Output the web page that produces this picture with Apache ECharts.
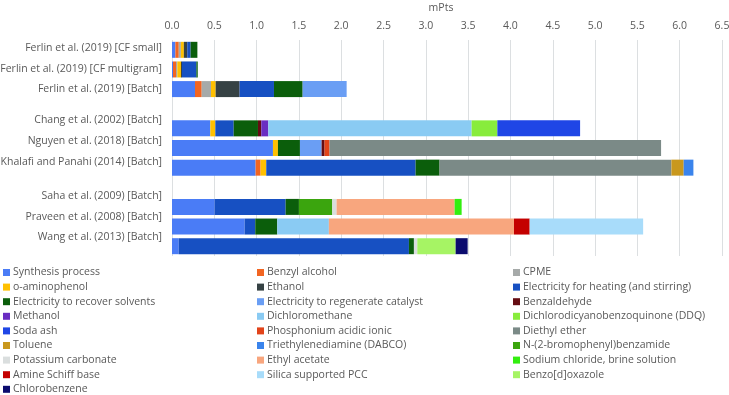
<!DOCTYPE html>
<html>
<head>
<meta charset="utf-8">
<script src="https://cdn.jsdelivr.net/npm/echarts@6/dist/echarts.min.js"></script>
<style>html,body{margin:0;padding:0;background:#fff;}#c{width:729px;height:395px;}</style>
</head>
<body>
<div id="c"></div>
<script>
// Categories (top to bottom); blank strings are the spacer rows
const categories = [
  'Ferlin et al. (2019) [CF small]',
  'Ferlin et al. (2019) [CF multigram]',
  'Ferlin et al. (2019) [Batch]',
  ' ',
  'Chang et al. (2002) [Batch]',
  'Nguyen et al. (2018) [Batch]',
  'Khalafi and Panahi (2014) [Batch]',
  '  ',
  'Saha et al. (2009) [Batch]',
  'Praveen et al. (2008) [Batch]',
  'Wang et al. (2013) [Batch]'
];
const xTicks = [0, 0.5, 1, 1.5, 2, 2.5, 3, 3.5, 4, 4.5, 5, 5.5, 6, 6.5];

// Series values (mPts), one entry per category row
const synthesisProcess   = [0.040, 0.012, 0.272, null, 0.453, 1.193, 0.988, null, 0.504, 0.858, 0.079];
const benzylAlcohol      = [0.040, 0.035, 0.079, null, null, null, 0.059, null, null, null, null];
const cpme               = [0.025, 0.016, 0.110, null, null, null, null, null, null, null, null];
const oAminophenol       = [0.035, 0.043, 0.055, null, 0.059, 0.059, 0.067, null, null, null, null];
const ethanol            = [0.040, 0.012, 0.283, null, null, null, null, null, null, null, null];
const elecHeating        = [0.040, 0.170, 0.406, null, 0.217, null, 1.765, null, 0.839, 0.126, 2.721];
const elecRecover        = [0.080, 0.016, 0.339, null, 0.287, 0.260, 0.283, null, 0.157, 0.260, 0.059];
const elecRegenerate     = [null, null, 0.520, null, null, 0.256, null, null, null, null, null];
const benzaldehyde       = [null, null, null, null, 0.039, 0.035, null, null, null, null, null];
const methanol           = [null, null, null, null, 0.083, null, null, null, null, null, null];
const dichloromethane    = [null, null, null, null, 2.403, null, null, null, null, 0.610, null];
const ddq                = [null, null, null, null, 0.304, null, null, null, null, null, null];
const sodaAsh            = [null, null, null, null, 0.978, null, null, null, null, null, null];
const phosphonium        = [null, null, null, null, null, 0.059, null, null, null, null, null];
const diethylEther       = [null, null, null, null, null, 3.918, 2.740, null, null, null, null];
const toluene            = [null, null, null, null, null, null, 0.145, null, null, null, null];
const dabco              = [null, null, null, null, null, null, 0.115, null, null, null, null];
const bromophenylAmide   = [null, null, null, null, null, null, null, null, 0.394, null, null];
const potassiumCarbonate = [null, null, null, null, null, null, null, null, 0.051, null, 0.040];
const ethylAcetate       = [null, null, null, null, null, null, null, null, 1.395, 2.188, null];
const sodiumChloride     = [null, null, null, null, null, null, null, null, 0.083, null, null];
const amineSchiffBase    = [null, null, null, null, null, null, null, null, null, 0.185, null];
const silicaPCC          = [null, null, null, null, null, null, null, null, null, 1.341, null];
const benzoxazole        = [null, null, null, null, null, null, null, null, null, null, 0.453];
const chlorobenzene      = [null, null, null, null, null, null, null, null, null, null, 0.142];

const seriesDefs = [
  ['Synthesis process', synthesisProcess, '#4a7cf6'],
  ['Benzyl alcohol', benzylAlcohol, '#f26522'],
  ['CPME', cpme, '#a6aaa9'],
  ['o-aminophenol', oAminophenol, '#ffc000'],
  ['Ethanol', ethanol, '#364244'],
  ['Electricity for heating (and stirring)', elecHeating, '#1750c2'],
  ['Electricity to recover solvents', elecRecover, '#0b5e0b'],
  ['Electricity to regenerate catalyst', elecRegenerate, '#6a9ef4'],
  ['Benzaldehyde', benzaldehyde, '#650c12'],
  ['Methanol', methanol, '#6a2dc2'],
  ['Dichloromethane', dichloromethane, '#8acbf3'],
  ['Dichlorodicyanobenzoquinone (DDQ)', ddq, '#88ec3c'],
  ['Soda ash', sodaAsh, '#1f46e6'],
  ['Phosphonium acidic ionic', phosphonium, '#e2441a'],
  ['Diethyl ether', diethylEther, '#7b8a87'],
  ['Toluene', toluene, '#c9981d'],
  ['Triethylenediamine (DABCO)', dabco, '#3a84ec'],
  ['N-(2-bromophenyl)benzamide', bromophenylAmide, '#3ba50e'],
  ['Potassium carbonate', potassiumCarbonate, '#dadede'],
  ['Ethyl acetate', ethylAcetate, '#f8a67e'],
  ['Sodium chloride, brine solution', sodiumChloride, '#33ee10'],
  ['Amine Schiff base', amineSchiffBase, '#c40000'],
  ['Silica supported PCC', silicaPCC, '#a8dcfa'],
  ['Benzo[d]oxazole', benzoxazole, '#a6f464'],
  ['Chlorobenzene', chlorobenzene, '#0b0b6e']
];

const FONT = 'Open Sans';
const TXT = '#595959';
const FS = 10.5;

// label vertical offsets (px, upward) relative to bar rows
const labelShift = [2, 0, 0, 0, 8, 7, 6, 0, 11, 10, 9];
const rich = {};
labelShift.forEach((d, i) => {
  rich['r' + i] = { padding: [0, 0, 2 * d, 0], color: TXT, fontSize: FS, fontFamily: FONT };
});

const names = seriesDefs.map(s => s[0]);
const cols = [[], [], []];
names.forEach((n, i) => cols[i % 3].push(n));
const legendLefts = [3, 257, 513];

const chart = echarts.init(document.getElementById('c'), null, { renderer: 'canvas' });
chart.setOption({
  animation: false,
  backgroundColor: '#fff',
  textStyle: { fontFamily: FONT },
  grid: { left: 172, right: 7, top: 40, height: 216, containLabel: false, outerBoundsMode: 'none' },
  xAxis: {
    type: 'value', position: 'top', min: 0, max: 6.5, interval: 0.5,
    name: 'mPts', nameLocation: 'middle', nameGap: 26,
    nameTextStyle: { color: TXT, fontSize: FS, fontFamily: FONT, padding: [0, 12, 0, 0] },
    axisLine: { show: false }, axisTick: { show: false },
    axisLabel: { color: TXT, fontSize: FS, fontFamily: FONT, margin: 8,
      formatter: v => (xTicks.indexOf(v) >= 0 ? v.toFixed(1) : '') },
    splitLine: { lineStyle: { color: '#dcdfe1', width: 1 } }
  },
  yAxis: {
    type: 'category', inverse: true, data: categories,
    axisLine: { show: false }, axisTick: { show: false },
    axisLabel: { margin: 10, interval: 0,
      formatter: (v, i) => (v.trim() ? '{r' + i + '|' + v + '}' : ''),
      rich: rich }
  },
  legend: cols.map((c, k) => ({
    data: c, orient: 'vertical', left: legendLefts[k], top: 266, height: 160,
    itemWidth: 7, itemHeight: 7, itemGap: 1.6, icon: 'rect', padding: 0,
    textStyle: { color: TXT, fontSize: FS, fontFamily: FONT, lineHeight: 13, padding: [0, 0, 0, -2] }
  })),
  series: seriesDefs.map(([name, data, color]) => ({
    name, type: 'bar', stack: 'total', data,
    barWidth: 16, itemStyle: { color },
    emphasis: { disabled: true }
  }))
});
</script>
</body>
</html>
